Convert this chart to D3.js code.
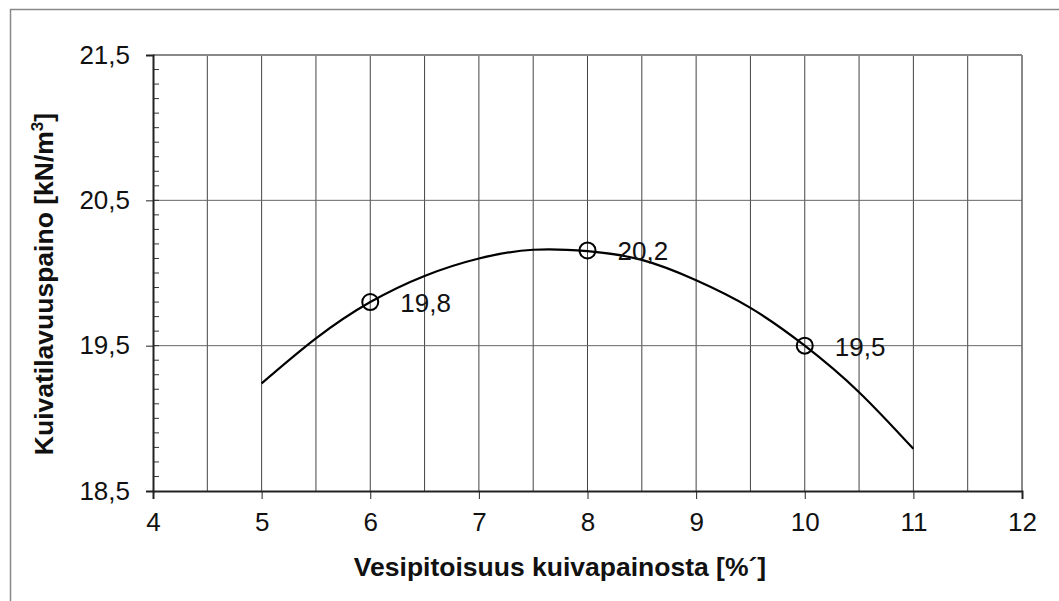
<!DOCTYPE html>
<html><head><meta charset="utf-8">
<script src="https://cdn.jsdelivr.net/npm/d3@7"></script>
<style>body{margin:0;background:#fff}svg{display:block;font-family:"Liberation Sans",Arial,sans-serif}</style>
</head><body><svg id="c" width="1059" height="601"></svg>
<script>
const pointX = [6, 8, 10];
const pointY = [19.8, 20.155, 19.5];
const pointLabels = ["19,8", "20,2", "19,5"];
const curveX = [5, 5.5, 6, 6.5, 7, 7.5, 8, 8.5, 9, 9.5, 10, 10.5, 11];
const curveY = [19.24, 19.55, 19.80, 19.98, 20.10, 20.16, 20.15, 20.09, 19.95, 19.76, 19.50, 19.18, 18.79];
const xTicks = [4, 5, 6, 7, 8, 9, 10, 11, 12];
const yTicks = [18.5, 19.5, 20.5, 21.5];
const xTitle = "Vesipitoisuus kuivapainosta [%´]";
const yTitleMain = "Kuivatilavuuspaino [kN/m";
const yTitleSup = "3";
const yTitleEnd = "]";

const svg = d3.select("#c");
const L = 153, R = 1022, T = 55, B = 491;
const x = d3.scaleLinear().domain([4, 12]).range([L, R]);
const y = d3.scaleLinear().domain([18.5, 21.5]).range([B, T]);
const fmt = d => String(d).replace(".", ",");
const FF = "Liberation Sans, Arial, sans-serif";

// outer border (only top & left visible)
svg.append("rect").attr("x", 10.5).attr("y", 9.5).attr("width", 1100).attr("height", 700)
  .attr("fill", "none").attr("stroke", "#888").attr("stroke-width", 1.5);

// vertical grid
const vg = d3.range(4.5, 12.01, 0.5);
svg.append("g").selectAll("line").data(vg).join("line")
  .attr("x1", d => x(d)).attr("x2", d => x(d)).attr("y1", T).attr("y2", B)
  .attr("stroke", d => d === 12 ? "#888" : "#444").attr("stroke-width", d => d === 12 ? 2 : 1);
// horizontal grid
svg.append("g").selectAll("line").data([19.5, 20.5, 21.5]).join("line")
  .attr("x1", L).attr("x2", R).attr("y1", d => y(d)).attr("y2", d => y(d))
  .attr("stroke", d => d === 21.5 ? "#888" : "#666").attr("stroke-width", d => d === 21.5 ? 2 : 1);

// y minor ticks (inward)
const minor = d3.range(18.6, 21.45, 0.1);
svg.append("g").selectAll("line").data(minor).join("line")
  .attr("x1", L).attr("x2", L + 6).attr("y1", d => y(d)).attr("y2", d => y(d))
  .attr("stroke", "#333").attr("stroke-width", 1);

// y axis
const yAx = svg.append("g").attr("transform", `translate(${L},0)`)
  .call(d3.axisLeft(y).tickValues(yTicks).tickFormat(fmt).tickSize(7).tickPadding(16));
yAx.select(".domain").attr("stroke", "#222").attr("stroke-width", 2);
yAx.selectAll(".tick line").attr("stroke", "#222");
yAx.selectAll("text").attr("font-size", 26).attr("fill", "#111").attr("font-family", FF);

// x axis
const xAx = svg.append("g").attr("transform", `translate(0,${B})`)
  .call(d3.axisBottom(x).tickValues(xTicks).tickFormat(fmt).tickSize(8).tickPadding(14));
xAx.select(".domain").attr("stroke", "#222").attr("stroke-width", 2);
xAx.selectAll(".tick line").attr("stroke", "#222");
xAx.selectAll("text").attr("font-size", 26).attr("fill", "#111").attr("font-family", FF);

// curve
const pts = curveX.map((d, i) => [d, curveY[i]]);
svg.append("path").datum(pts)
  .attr("d", d3.line().x(d => x(d[0])).y(d => y(d[1])).curve(d3.curveNatural))
  .attr("fill", "none").attr("stroke", "#000").attr("stroke-width", 2.2);

// points
const P = pointX.map((d, i) => ({x: d, y: pointY[i], l: pointLabels[i]}));
svg.append("g").selectAll("circle").data(P).join("circle")
  .attr("cx", d => x(d.x)).attr("cy", d => y(d.y)).attr("r", 8)
  .attr("fill", "none").attr("stroke", "#000").attr("stroke-width", 2);
svg.append("g").selectAll("text").data(P).join("text")
  .attr("x", d => x(d.x) + 30).attr("y", d => y(d.y) + 10)
  .attr("font-size", 26).attr("fill", "#111").attr("font-family", FF).text(d => d.l);

// titles
svg.append("text").attr("x", 560).attr("y", 576).attr("text-anchor", "middle")
  .attr("font-size", 26.5).attr("font-weight", "bold").attr("fill", "#111").attr("font-family", FF).text(xTitle);
const yt = svg.append("text").attr("transform", `translate(53,284) rotate(-90)`).attr("text-anchor", "middle")
  .attr("font-size", 26.5).attr("font-weight", "bold").attr("fill", "#111").attr("font-family", FF);
yt.append("tspan").text(yTitleMain);
yt.append("tspan").attr("font-size", 17).attr("dy", -10).text(yTitleSup);
yt.append("tspan").attr("dy", 10).text(yTitleEnd);
</script></body></html>
